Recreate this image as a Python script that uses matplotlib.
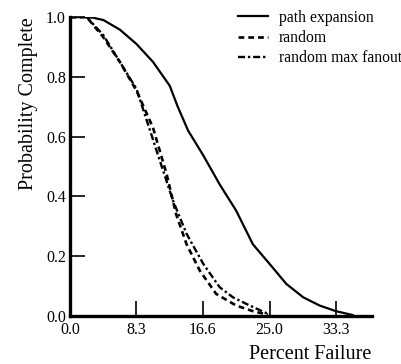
import matplotlib
matplotlib.use("Agg")
import matplotlib.pyplot as plt

# Data
path_x = [0.0, 2.1, 2.9, 4.2, 6.25, 8.33, 10.4, 12.5, 13.5, 14.8, 16.7, 18.75, 20.8, 22.9, 25.0, 27.1, 29.2, 31.25, 33.3, 35.4]
path_y = [1.0, 1.0, 0.998, 0.99, 0.958, 0.91, 0.85, 0.77, 0.70, 0.62, 0.537, 0.44, 0.353, 0.24, 0.174, 0.107, 0.0625, 0.035, 0.016, 0.003]

rand_x = [0.0, 2.1, 4.17, 6.25, 8.33, 10.4, 12.1, 13.3, 14.6, 16.25, 18.3, 20.8, 22.9, 24.8]
rand_y = [1.0, 1.0, 0.933, 0.85, 0.754, 0.63, 0.475, 0.34, 0.24, 0.152, 0.074, 0.035, 0.016, 0.004]

fan_x = [0.0, 2.1, 4.17, 8.33, 11.25, 12.9, 14.6, 16.7, 18.75, 20.4, 22.5, 24.8]
fan_y = [1.0, 1.0, 0.94, 0.76, 0.52, 0.386, 0.275, 0.174, 0.096, 0.0625, 0.035, 0.007]

xticks = [0.0, 8.3, 16.6, 25.0, 33.3]
yticks = [0.0, 0.2, 0.4, 0.6, 0.8, 1.0]
labels = ["path expansion", "random", "random max fanout"]

plt.rcParams['font.family'] = ['Liberation Serif', 'DejaVu Serif']

fig = plt.figure(figsize=(4.02, 3.64), dpi=100)
ax = fig.add_axes([0.174, 0.132, 0.751, 0.821])

ax.plot(path_x, path_y, color='black', lw=1.6, linestyle='-', label=labels[0])
ax.plot(rand_x, rand_y, color='black', lw=1.9, linestyle=(0, (2.2, 1.5)), label=labels[1])
ax.plot(fan_x, fan_y, color='black', lw=1.7, linestyle=(0, (3, 1.2, 1, 1.2)), label=labels[2])

ax.set_xlim(0, 37.8)
ax.set_ylim(0, 1.0)
ax.set_xticks(xticks)
ax.set_xticklabels([f"{v:.1f}" for v in xticks])
ax.set_yticks(yticks)
ax.set_yticklabels([f"{v:.1f}" for v in yticks])

for s in ['top', 'right']:
    ax.spines[s].set_visible(False)
for s in ['left', 'bottom']:
    ax.spines[s].set_linewidth(2.4)
ax.tick_params(direction='in', length=11, width=1.2, labelsize=11.5)
ax.tick_params(axis='x', pad=4.5)
ax.tick_params(axis='y', pad=3)

ax.set_ylabel("Probability Complete", fontsize=14.5, loc='top', labelpad=6)
ax.set_xlabel("Percent Failure", fontsize=14.5, loc='right', labelpad=5)

leg = ax.legend(frameon=False, loc='upper left', bbox_to_anchor=(0.535, 1.045),
                fontsize=11.3, handlelength=1.9, labelspacing=0.27, handletextpad=0.7,
                borderaxespad=0)

fig.savefig("out.png", dpi=100)
